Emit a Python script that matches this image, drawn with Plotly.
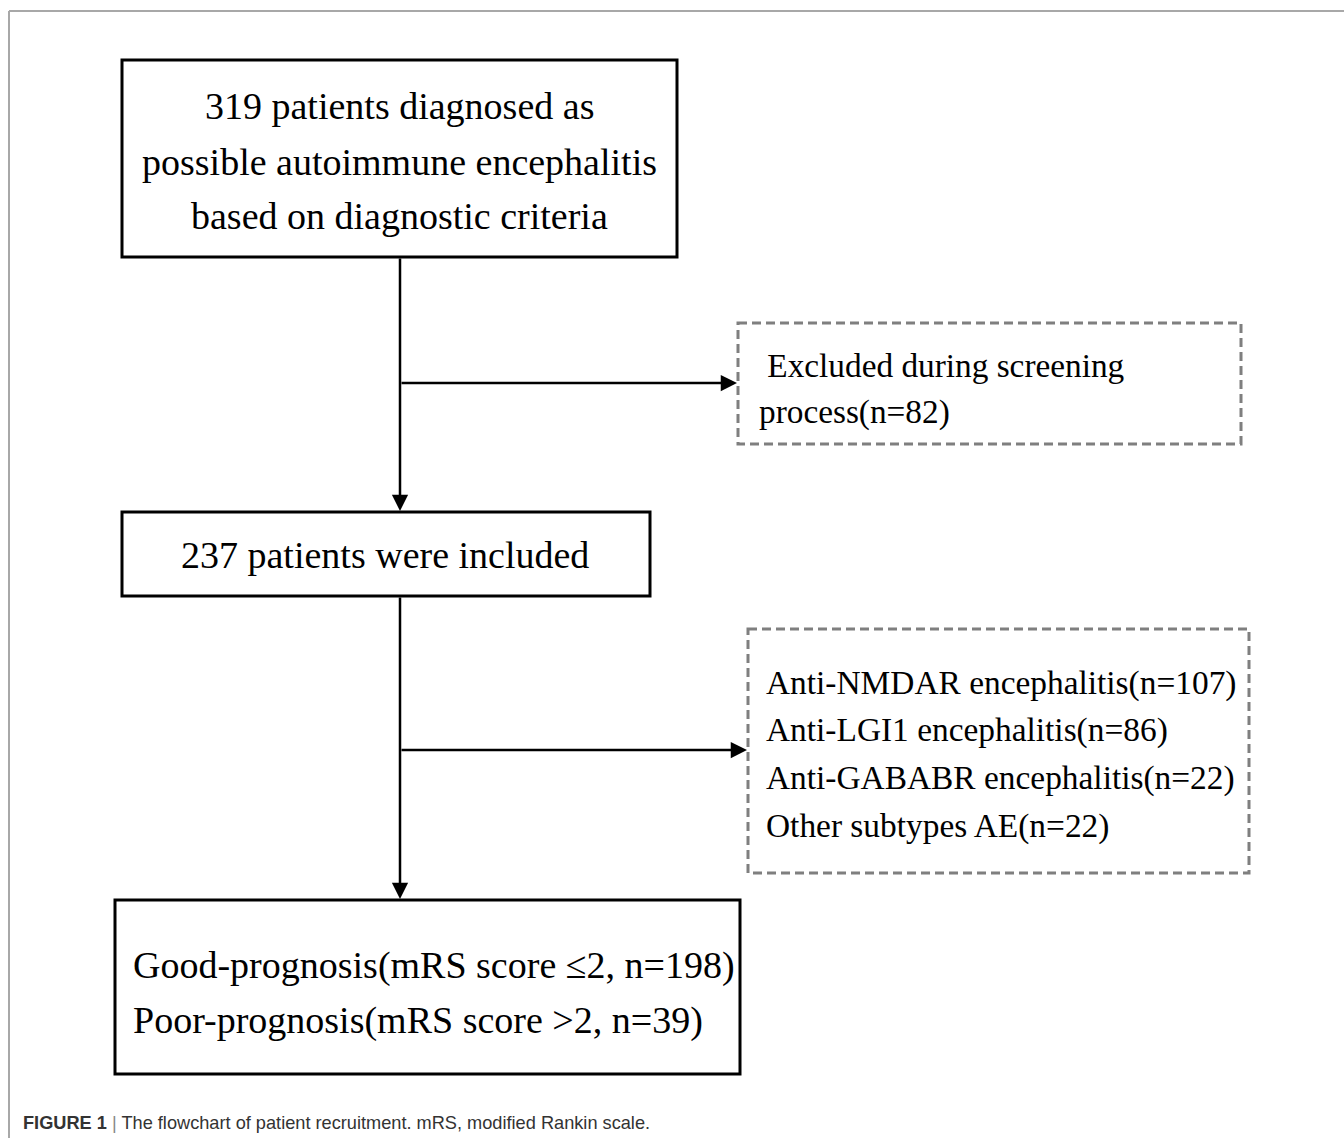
import plotly.graph_objects as go

W, H = 1344, 1138

# ---- content ----
box1_lines = ["319 patients diagnosed as",
              "possible autoimmune encephalitis",
              "based on diagnostic criteria"]
excluded_lines = [" Excluded during screening", "process(n=82)"]
box2_lines = ["237 patients were included"]
subtype_lines = ["Anti-NMDAR encephalitis(n=107)",
                 "Anti-LGI1 encephalitis(n=86)",
                 "Anti-GABABR encephalitis(n=22)",
                 "Other subtypes AE(n=22)"]
outcome_lines = ["Good-prognosis(mRS score \u22642, n=198)",
                 "Poor-prognosis(mRS score >2, n=39)"]
caption_bold = "FIGURE 1"
caption_text = "The flowchart of patient recruitment. mRS, modified Rankin scale."

SERIF = "Liberation Serif, Times New Roman, serif"
SANS = "Liberation Sans, Arial, sans-serif"

fig = go.Figure()
fig.add_trace(go.Scatter(x=[0, W], y=[0, H], mode="markers",
                         marker=dict(opacity=0), hoverinfo="skip", showlegend=False))

shapes = []
annotations = []

# outer frame (top and left)
shapes.append(dict(type="line", x0=9, y0=11, x1=W + 5, y1=11, line=dict(color="#a8a8a8", width=2)))
shapes.append(dict(type="line", x0=9, y0=11, x1=9, y1=H + 5, line=dict(color="#a8a8a8", width=2)))

def solid_box(x0, y0, x1, y1):
    shapes.append(dict(type="rect", x0=x0, y0=y0, x1=x1, y1=y1,
                       line=dict(color="black", width=3), fillcolor="rgba(0,0,0,0)"))

def dashed_box(x0, y0, x1, y1):
    shapes.append(dict(type="rect", x0=x0, y0=y0, x1=x1, y1=y1,
                       line=dict(color="#7f7f7f", width=3, dash="9px,5px"), fillcolor="rgba(0,0,0,0)"))

solid_box(122, 60, 677, 257)
solid_box(122, 512, 650, 596)
solid_box(115, 900, 740, 1074)
dashed_box(738, 323, 1241, 444)
dashed_box(748, 629, 1249, 873)

def arrow(x0, y0, x1, y1):
    annotations.append(dict(x=x1, y=y1, ax=x0, ay=y0, xref="x", yref="y", axref="x", ayref="y",
                            text="", showarrow=True, arrowhead=2, arrowsize=1.3,
                            arrowwidth=2.5, arrowcolor="black"))

arrow(400, 257, 400, 511)
arrow(400, 383, 737, 383)
arrow(400, 596, 400, 899)
arrow(400, 750, 747, 750)

def text(x, y, s, size, anchor="center", font=SERIF, color="black"):
    annotations.append(dict(x=x, y=y, xref="x", yref="y", text=s, showarrow=False,
                            xanchor=anchor, yanchor="middle",
                            font=dict(family=font, size=size, color=color)))

for s, y in zip(box1_lines, [106, 162, 216]):
    text(399, y, s, 38)
for s, y in zip(box2_lines, [555]):
    text(385, y, s, 38)
for s, x, y in zip(excluded_lines, [757, 757], [365, 412]):
    text(x, y, s, 33.3, anchor="left")
for s, y in zip(subtype_lines, [683, 730, 778, 826]):
    text(764, y, s, 33.4, anchor="left")
for s, y in zip(outcome_lines, [965, 1020]):
    text(131, y, s, 38, anchor="left")

text(21, 1123, "<b>" + caption_bold + "</b> <span style='color:#888888'>|</span> " + caption_text,
     18.2, anchor="left", font=SANS, color="#333333")

fig.update_layout(
    width=W, height=H,
    margin=dict(l=0, r=0, t=0, b=0),
    paper_bgcolor="white", plot_bgcolor="white",
    xaxis=dict(range=[0, W], visible=False, fixedrange=True),
    yaxis=dict(range=[H, 0], visible=False, fixedrange=True),
    shapes=shapes, annotations=annotations, showlegend=False,
)

fig.write_html("out.html", config={"displayModeBar": False},
               post_script="document.body.style.margin='0';")
